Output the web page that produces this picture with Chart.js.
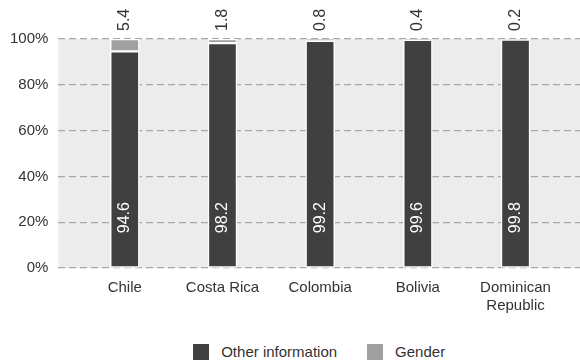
<!DOCTYPE html>
<html>
<head>
<meta charset="utf-8">
<script src="https://cdn.jsdelivr.net/npm/chart.js@4.4.1/dist/chart.umd.min.js"></script>
<style>
  html, body { margin: 0; padding: 0; background: #fff; }
  body { width: 580px; height: 364px; position: relative; overflow: hidden; }
  #chart { display: block; }
  #legend {
    position: absolute; top: 343px;
    display: flex; justify-content: center; align-items: center;
    font: 15px 'Liberation Sans', Arial, sans-serif; color: #333;
  }
  #legend .item { display: flex; align-items: center; margin: 0 15px; }
  #legend .box { width: 16px; height: 16px; margin-right: 12px; }
</style>
</head>
<body>
<canvas id="chart" width="580" height="326"></canvas>
<div id="legend"></div>
<script>
/* Datos del gráfico */
const countries = ["Chile", "Costa Rica", "Colombia", "Bolivia", ["Dominican", "Republic"]];
const otherInfo = [94.6, 98.2, 99.2, 99.6, 99.8];
const gender = [5.4, 1.8, 0.8, 0.4, 0.2];
const yTicks = [0, 20, 40, 60, 80, 100];

const FONT = "'Liberation Sans', Arial, sans-serif";
const TEXT = "#333";

/* Fondo gris del área del gráfico */
const areaBackground = {
  id: "areaBackground",
  beforeDraw(chart) {
    const { ctx, chartArea: a } = chart;
    ctx.save();
    ctx.fillStyle = "#ececec";
    ctx.fillRect(a.left, a.top, a.right - a.left, a.bottom - a.top);
    ctx.restore();
  }
};

/* Etiquetas de valor giradas */
const valueLabels = {
  id: "valueLabels",
  afterDatasetsDraw(chart) {
    const { ctx, chartArea } = chart;
    const yScale = chart.scales.y;
    ctx.save();
    ctx.font = "16px " + FONT;
    ctx.textBaseline = "middle";
    // Other information: dentro de la barra, cerca de la base
    chart.getDatasetMeta(0).data.forEach((bar, i) => {
      ctx.save();
      ctx.translate(bar.x, yScale.getPixelForValue(22));
      ctx.rotate(-Math.PI / 2);
      ctx.fillStyle = "#fff";
      ctx.textAlign = "center";
      ctx.fillText(otherInfo[i].toFixed(1), 0, 0);
      ctx.restore();
    });
    // Gender: encima del área
    chart.getDatasetMeta(1).data.forEach((bar, i) => {
      ctx.save();
      ctx.translate(bar.x, chartArea.top - 8);
      ctx.rotate(-Math.PI / 2);
      ctx.fillStyle = TEXT;
      ctx.textAlign = "left";
      ctx.fillText(gender[i].toFixed(1), 0, 0);
      ctx.restore();
    });
    ctx.restore();
  }
};

const toPoints = (arr) => arr.map((v, i) => ({ x: i, y: v }));

const chart = new Chart(document.getElementById("chart"), {
  type: "bar",
  data: {
    datasets: [
      {
        label: "Other information",
        data: toPoints(otherInfo),
        backgroundColor: "#404040",
        borderColor: "#fff",
        borderWidth: 1.5,
        borderSkipped: false,
        barThickness: 29
      },
      {
        label: "Gender",
        data: toPoints(gender),
        backgroundColor: "#a0a0a0",
        borderColor: "#fff",
        borderWidth: 1.5,
        borderSkipped: false,
        barThickness: 29
      }
    ]
  },
  options: {
    responsive: false,
    animation: false,
    layout: { padding: { top: 39, right: 0, left: 0, bottom: 0 } },
    scales: {
      x: {
        type: "linear",
        stacked: true,
        offset: false,
        min: -0.68,
        max: 4.66,
        afterBuildTicks: (scale) => {
          scale.ticks = countries.map((_, i) => ({ value: i }));
        },
        grid: { display: false, drawTicks: false, offset: false },
        border: { display: false },
        ticks: {
          color: TEXT,
          font: { family: FONT, size: 15 },
          padding: 11,
          maxRotation: 0,
          autoSkip: false,
          callback: (v) => countries[v]
        }
      },
      y: {
        stacked: true,
        min: 0,
        max: 100,
        afterBuildTicks: (scale) => {
          scale.ticks = yTicks.map((v) => ({ value: v }));
        },
        grid: { color: "#a8a8a8", lineWidth: 1.2, drawTicks: false },
        border: { display: false, dash: [7, 4] },
        ticks: {
          color: TEXT,
          font: { family: FONT, size: 15 },
          padding: 10,
          callback: (v) => v + "%"
        }
      }
    },
    plugins: {
      tooltip: { enabled: false },
      legend: { display: false }
    }
  },
  plugins: [areaBackground, valueLabels]
});

/* Leyenda en HTML, centrada bajo el área del gráfico */
const legend = document.getElementById("legend");
legend.style.left = chart.chartArea.left + "px";
legend.style.width = (chart.chartArea.right - chart.chartArea.left) + "px";
chart.data.datasets.forEach((ds) => {
  const item = document.createElement("div");
  item.className = "item";
  item.innerHTML = `<span class="box" style="background:${ds.backgroundColor}"></span>${ds.label}`;
  legend.appendChild(item);
});
</script>
</body>
</html>
